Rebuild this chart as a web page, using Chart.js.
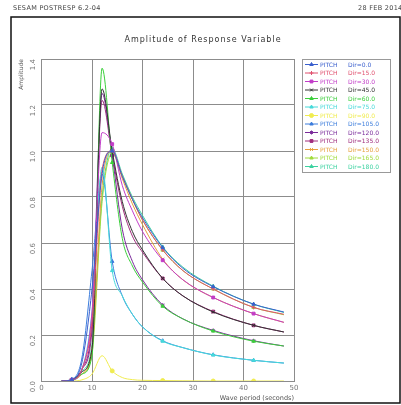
<!DOCTYPE html>
<html>
<head>
<meta charset="utf-8">
<script src="https://cdn.jsdelivr.net/npm/chart.js@4.4.1/dist/chart.umd.min.js"></script>
<style>
  html, body { margin: 0; padding: 0; background: #fff; }
</style>
</head>
<body>
<canvas id="rao" width="401" height="405"></canvas>
<script>
// wave periods (s) where the response is sampled
const periods = [4, 6, 8, 10, 12, 14, 16, 18, 20, 24, 28, 34, 42, 48];
// indices of the periods that carry a symbol
const markedIdx = [1, 5, 9, 11, 12];

const headings = [0, 15, 30, 45, 60, 75, 90, 105, 120, 135, 150, 165, 180];
const lineColors = ['#3a5fcd', '#e0506e', '#c23cc8', '#333333', '#3ccf3c', '#46dada', '#f0ec50',
                    '#3c7ddc', '#7a2a9a', '#a02d7d', '#e6a03c', '#a0dc3c', '#3cd2a0'];
const markers = ['triangle', 'cross', 'rect', 'crossRot', 'triangle', 'triangle', 'circle',
                 'triangle', 'star', 'rect', 'crossRot', 'triangle', 'triangle'];

// pitch amplitude per heading
const dir0   = [0, 0.005, 0.08, 0.40, 0.90, 1.00, 0.89, 0.79, 0.71, 0.580, 0.490, 0.410, 0.334, 0.300];
const dir15  = [0, 0.005, 0.05, 0.26, 0.92, 1.00, 0.89, 0.79, 0.70, 0.570, 0.480, 0.400, 0.320, 0.290];
const dir30  = [0, 0.005, 0.05, 0.30, 1.08, 1.03, 0.85, 0.74, 0.65, 0.525, 0.440, 0.363, 0.293, 0.255];
const dir45  = [0, 0.004, 0.04, 0.14, 1.27, 1.00, 0.78, 0.65, 0.57, 0.446, 0.370, 0.300, 0.242, 0.213];
const dir60  = [0, 0.003, 0.03, 0.11, 1.36, 0.95, 0.62, 0.50, 0.43, 0.325, 0.270, 0.217, 0.173, 0.152];
const dir75  = [0, 0.004, 0.05, 0.30, 0.93, 0.48, 0.37, 0.29, 0.235, 0.173, 0.145, 0.113, 0.090, 0.078];
const dir90  = [0, 0, 0.005, 0.03, 0.11, 0.044, 0.015, 0.006, 0.003, 0.002, 0.001, 0, 0, 0];
const dir105 = [0, 0.008, 0.10, 0.48, 0.90, 0.52, 0.37, 0.29, 0.235, 0.175, 0.145, 0.114, 0.090, 0.078];
const dir120 = [0, 0.005, 0.05, 0.26, 1.25, 0.98, 0.66, 0.52, 0.44, 0.330, 0.270, 0.220, 0.175, 0.152];
const dir135 = [0, 0.005, 0.05, 0.22, 1.22, 0.98, 0.76, 0.63, 0.56, 0.446, 0.370, 0.302, 0.242, 0.213];
const dir150 = [0, 0.003, 0.03, 0.14, 0.85, 1.00, 0.88, 0.77, 0.68, 0.530, 0.440, 0.363, 0.293, 0.255];
const dir165 = [0, 0.003, 0.03, 0.12, 0.78, 0.99, 0.89, 0.79, 0.70, 0.569, 0.480, 0.400, 0.320, 0.288];
const dir180 = [0, 0.005, 0.04, 0.16, 0.80, 1.01, 0.90, 0.80, 0.72, 0.583, 0.495, 0.412, 0.334, 0.298];

const amplitudes = [dir0, dir15, dir30, dir45, dir60, dir75, dir90, dir105, dir120, dir135, dir150, dir165, dir180];

const yTicks = [0, 0.2, 0.4, 0.6, 0.8, 1.0, 1.2, 1.4];
const xTicks = [0, 10, 20, 30, 40, 50];

const FONT = '"DejaVu Sans", sans-serif';

const datasets = headings.map(function (dir, i) {
    return {
        label: 'PITCH Dir=' + dir.toFixed(1),
        data: periods.map(function (p, k) { return {x: p, y: amplitudes[i][k]}; }),
        borderColor: lineColors[i],
        backgroundColor: lineColors[i],
        borderWidth: 1,
        pointStyle: markers[i],
        pointRadius: periods.map(function (p, k) { return markedIdx.indexOf(k) >= 0 ? 2 : 0; }),
        pointBorderWidth: 1,
        pointHoverRadius: 0,
        cubicInterpolationMode: 'monotone',
        fill: false
    };
});

// frame, header lines, title and the boxed legend
const sheet = {
    id: 'sheet',
    beforeDraw: function (chart) {
        const ctx = chart.ctx;
        ctx.save();
        ctx.fillStyle = '#fff';
        ctx.fillRect(0, 0, chart.width, chart.height);
        ctx.restore();
    },
    afterDraw: function (chart) {
        const ctx = chart.ctx;
        ctx.save();
        ctx.strokeStyle = '#111';
        ctx.lineWidth = 1.5;
        ctx.strokeRect(11, 17, 389, 386);

        ctx.fillStyle = '#444';
        ctx.font = '6.5px ' + FONT;
        ctx.textBaseline = 'middle';
        ctx.textAlign = 'left';
        ctx.letterSpacing = '0.3px';
        ctx.fillText('SESAM POSTRESP 6.2-04', 13, 8.5);
        ctx.fillText('28 FEB 2014', 358, 8.5);

        ctx.font = '8px ' + FONT;
        ctx.fillStyle = '#333';
        ctx.textAlign = 'center';
        ctx.letterSpacing = '1px';
        ctx.fillText('Amplitude of Response Variable', 203, 40);
        ctx.letterSpacing = '0px';

        // legend box
        ctx.strokeStyle = '#999';
        ctx.lineWidth = 1;
        ctx.strokeRect(302.5, 59.5, 88, 113);
        ctx.font = '6px ' + FONT;
        ctx.textAlign = 'left';
        chart.data.datasets.forEach(function (ds, i) {
            const y = 64.5 + i * 8.5;
            ctx.strokeStyle = ds.borderColor;
            ctx.fillStyle = ds.borderColor;
            ctx.beginPath();
            ctx.moveTo(305, y);
            ctx.lineTo(318, y);
            ctx.stroke();
            if (Chart.helpers && Chart.helpers.drawPoint) {
                Chart.helpers.drawPoint(ctx, {pointStyle: ds.pointStyle, radius: 2, rotation: 0, borderWidth: 1}, 311.5, y);
            }
            ctx.fillText('PITCH', 320, y + 0.5);
            ctx.fillText('Dir=' + headings[i].toFixed(1), 348, y + 0.5);
        });
        ctx.restore();
    }
};

new Chart(document.getElementById('rao'), {
    type: 'line',
    data: {datasets: datasets},
    options: {
        responsive: false,
        animation: false,
        devicePixelRatio: 1,
        layout: {padding: {top: 59, right: 107, bottom: 0, left: 0}},
        plugins: {legend: {display: false}, title: {display: false}, tooltip: {enabled: false}},
        scales: {
            x: {
                type: 'linear',
                min: 0,
                max: 50,
                afterBuildTicks: function (scale) {
                    scale.ticks = xTicks.map(function (v) { return {value: v}; });
                },
                afterFit: function (scale) { scale.height = 24; },
                ticks: {color: '#777', font: {family: FONT, size: 7}, padding: 3, maxRotation: 0},
                grid: {color: '#8c8c8c', drawTicks: false},
                border: {color: '#8c8c8c'},
                title: {display: true, text: 'Wave period (seconds)', align: 'end', color: '#555',
                        font: {family: FONT, size: 6.5}, padding: {top: 0, bottom: 3}}
            },
            y: {
                type: 'linear',
                min: 0,
                max: 1.4,
                afterBuildTicks: function (scale) {
                    scale.ticks = yTicks.map(function (v) { return {value: v}; });
                },
                afterFit: function (scale) { scale.width = 41.5; },
                ticks: {color: '#777', font: {family: FONT, size: 7}, padding: 8, minRotation: 90, maxRotation: 90,
                        callback: function (v) { return Number(v).toFixed(1); }},
                grid: {color: '#8c8c8c', drawTicks: false},
                border: {color: '#8c8c8c'},
                title: {display: true, text: 'Amplitude', align: 'end', color: '#555',
                        font: {family: FONT, size: 6}, padding: {top: 18, bottom: 0}}
            }
        }
    },
    plugins: [sheet]
});
</script>
</body>
</html>
